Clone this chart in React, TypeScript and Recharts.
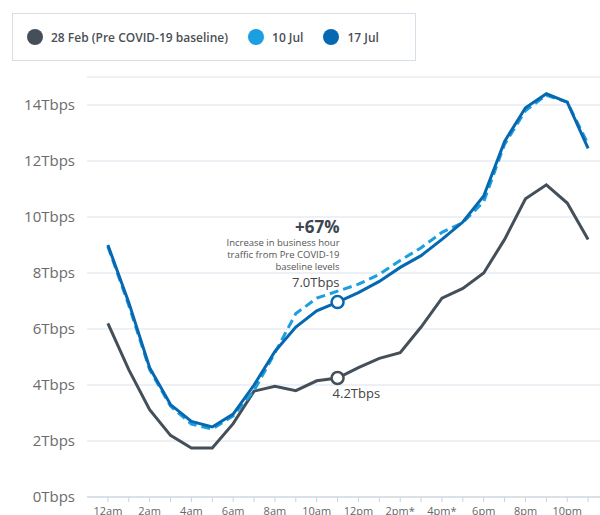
import { CartesianGrid, Line, LineChart, XAxis, YAxis } from "recharts";

const HOUR_LABELS = [
  "12am", "", "2am", "", "4am", "", "6am", "", "8am", "", "10am", "",
  "12pm", "", "2pm*", "", "4pm*", "", "6pm", "", "8pm", "", "10pm", "",
];

const FEB28 = [
  6.2, 4.55, 3.12, 2.2, 1.75, 1.75, 2.62, 3.78, 3.95, 3.8, 4.15, 4.25,
  4.62, 4.95, 5.15, 6.07, 7.1, 7.45, 8.0, 9.2, 10.65, 11.15, 10.5, 9.2,
];

const JUL10 = [
  8.95, 6.85, 4.55, 3.25, 2.6, 2.43, 2.9, 3.8, 5.15, 6.55, 7.1, 7.35,
  7.6, 7.95, 8.45, 8.9, 9.45, 9.8, 10.55, 12.6, 13.8, 14.35, 14.1, 12.6,
];

const JUL17 = [
  9.0, 6.95, 4.62, 3.3, 2.7, 2.5, 2.96, 4.0, 5.2, 6.07, 6.65, 6.96,
  7.3, 7.7, 8.2, 8.62, 9.2, 9.82, 10.75, 12.7, 13.9, 14.4, 14.1, 12.45,
];

const Y_TICKS = [0, 2, 4, 6, 8, 10, 12, 14];
const HIGHLIGHT_HOUR = 11;

const SERIES = [
  { name: "28 Feb (Pre COVID-19 baseline)", color: "#444f59" },
  { name: "10 Jul", color: "#1a9fe0" },
  { name: "17 Jul", color: "#0668b0" },
];

const FONT = "'Open Sans', sans-serif";

const data = HOUR_LABELS.map((label, i) => ({
  hour: i,
  label,
  feb28: FEB28[i],
  jul10: JUL10[i],
  jul17: JUL17[i],
}));

const emptyDot = (props: any) => <g key={`e-${props.index}`} />;

const jul17Dot = (props: any) => {
  const { cx, cy, index } = props;
  if (index !== HIGHLIGHT_HOUR) return emptyDot(props);
  return (
    <g key={`j-${index}`}>
      <circle cx={cx} cy={cy} r={6} fill="#fff" stroke="#0668b0" strokeWidth={2.5} />
      <text x={cx + 2} y={cy - 69} textAnchor="end" fontFamily={FONT} fontSize={17} fontWeight={700} fill="#3b4650">
        +67%
      </text>
      <text x={cx + 2} y={cy - 56} textAnchor="end" fontFamily={FONT} fontSize={9.5} fill="#555">
        Increase in business hour
      </text>
      <text x={cx + 2} y={cy - 44} textAnchor="end" fontFamily={FONT} fontSize={9.5} fill="#555">
        traffic from Pre COVID-19
      </text>
      <text x={cx + 2} y={cy - 32} textAnchor="end" fontFamily={FONT} fontSize={9.5} fill="#555">
        baseline levels
      </text>
      <text x={cx + 2} y={cy - 15} textAnchor="end" fontFamily={FONT} fontSize={13} fill="#444">
        7.0Tbps
      </text>
    </g>
  );
};

const febDot = (props: any) => {
  const { cx, cy, index } = props;
  if (index !== HIGHLIGHT_HOUR) return emptyDot(props);
  return (
    <g key={`f-${index}`}>
      <circle cx={cx} cy={cy} r={6} fill="#fff" stroke="#444f59" strokeWidth={2.5} />
      <text x={cx - 5} y={cy + 20} fontFamily={FONT} fontSize={13} fill="#444">
        4.2Tbps
      </text>
    </g>
  );
};

const LegendBox = () => (
  <div
    style={{
      position: "absolute",
      left: 12,
      top: 13,
      width: 402,
      height: 46,
      border: "1.5px solid #d6dee8",
      display: "flex",
      alignItems: "center",
      fontFamily: FONT,
      fontSize: 12,
      fontWeight: 600,
      color: "#4a4f55",
    }}
  >
    {SERIES.map((s, i) => (
      <div
        key={s.name}
        style={{
          display: "flex",
          alignItems: "center",
          marginLeft: i === 0 ? 14 : 20,
        }}
      >
        <span
          style={{
            width: 16,
            height: 16,
            borderRadius: "50%",
            background: s.color,
            display: "inline-block",
            marginRight: 8,
          }}
        />
        {s.name}
      </div>
    ))}
  </div>
);

export default function App() {
  return (
    <div
      style={{
        position: "absolute",
        left: 0,
        top: 0,
        width: 600,
        height: 515,
        overflow: "hidden",
        background: "#fff",
      }}
    >
      <LegendBox />
      <LineChart
        width={622}
        height={530}
        data={data}
        margin={{ top: 77, right: 13, bottom: 3, left: 0 }}
      >
        <CartesianGrid vertical={false} stroke="#dbe1ea" strokeWidth={1.2} />
        <XAxis
          dataKey="hour"
          type="number"
          domain={[-1, 24]}
          ticks={data.map((d) => d.hour)}
          interval={0}
          tickFormatter={(v: number) => HOUR_LABELS[v] ?? ""}
          height={30}
          tickSize={5}
          tickMargin={5}
          stroke="#c9d2dd"
          tick={{ fill: "#666", fontSize: 11, fontFamily: FONT }}
        />
        <YAxis
          type="number"
          domain={[0, 15]}
          ticks={Y_TICKS}
          width={87}
          axisLine={false}
          tickLine={false}
          tickMargin={6}
          tickFormatter={(v: number) => `${v}Tbps`}
          tick={{ fill: "#6b6b6b", fontSize: 15, fontFamily: FONT }}
        />
        <Line
          dataKey="feb28"
          stroke="#444f59"
          strokeWidth={3}
          dot={febDot}
          activeDot={false}
          isAnimationActive={false}
        />
        <Line
          dataKey="jul10"
          stroke="#1a9fe0"
          strokeWidth={3}
          strokeDasharray="9 5"
          dot={false}
          activeDot={false}
          isAnimationActive={false}
        />
        <Line
          dataKey="jul17"
          stroke="#0668b0"
          strokeWidth={3}
          dot={jul17Dot}
          activeDot={false}
          isAnimationActive={false}
        />
      </LineChart>
    </div>
  );
}
